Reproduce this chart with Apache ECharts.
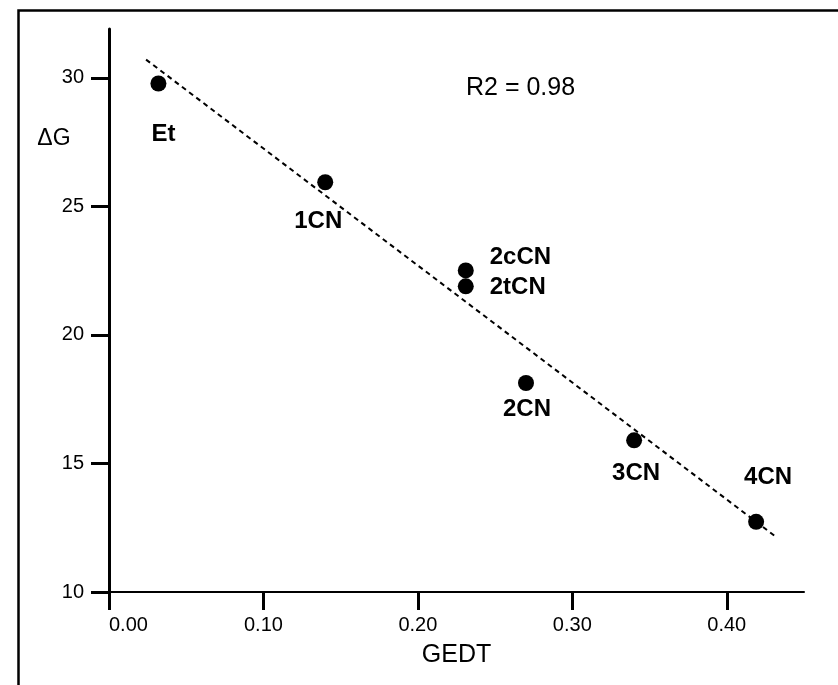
<!DOCTYPE html>
<html>
<head>
<meta charset="utf-8">
<script src="https://cdn.jsdelivr.net/npm/echarts@6/dist/echarts.min.js"></script>
<style>
html,body{margin:0;padding:0;background:#fff;}
#chart{width:838px;height:685px;}
</style>
</head>
<body>
<div id="chart"></div>
<script>
// ---- data ----
var compounds = ['Et', '1CN', '2cCN', '2tCN', '2CN', '3CN', '4CN'];
var gedt = [0.032, 0.14, 0.231, 0.231, 0.27, 0.34, 0.419];
var deltaG = [29.78, 25.94, 22.51, 21.89, 18.13, 15.90, 12.73];
var trendX = [0.024, 0.432];
var trendY = [30.71, 12.14];
var xTicks = [0, 0.1, 0.2, 0.3, 0.4];
var yTicks = [10, 15, 20, 25, 30];
var r2Text = 'R2 = 0.98';

// ---- styling (label placement relative to each point, px) ----
var FONT = '"Liberation Sans", Arial, Helvetica, sans-serif';
var labelPlace = {
  'Et':   {align: 'center', dx: 5,  dy: 51},
  '1CN':  {align: 'center', dx: -7, dy: 39},
  '2cCN': {align: 'left',   dx: 24, dy: -13},
  '2tCN': {align: 'left',   dx: 24, dy: 1},
  '2CN':  {align: 'center', dx: 1,  dy: 26},
  '3CN':  {align: 'center', dx: 2,  dy: 33},
  '4CN':  {align: 'center', dx: 12, dy: -44}
};

var points = compounds.map(function (name, i) {
  var p = labelPlace[name];
  return {
    name: name,
    value: [gedt[i], deltaG[i]],
    label: {
      show: true,
      position: 'inside',
      align: p.align,
      verticalAlign: 'middle',
      offset: [p.dx, p.dy]
    }
  };
});
var trend = trendX.map(function (x, i) { return [x, trendY[i]]; });

var chart = echarts.init(document.getElementById('chart'), null, {renderer: 'canvas'});
chart.setOption({
  animation: false,
  backgroundColor: '#ffffff',
  textStyle: {fontFamily: FONT},
  grid: {left: 109, right: 34, top: 29, bottom: 93, containLabel: false},
  xAxis: {
    type: 'value',
    min: 0, max: 0.45,
    name: 'GEDT',
    nameLocation: 'middle',
    nameGap: 51,
    nameTextStyle: {fontFamily: FONT, fontSize: 25, color: '#000'},
    splitLine: {show: false},
    axisLine: {show: true, lineStyle: {color: '#000', width: 2}},
    axisTick: {show: true, inside: false, length: 18, lineStyle: {color: '#000', width: 3}, customValues: xTicks},
    axisLabel: {
      color: '#000', fontFamily: FONT, fontSize: 20, margin: 23,
      customValues: xTicks,
      alignMinLabel: 'left',
      formatter: function (v) { return v.toFixed(2); }
    }
  },
  yAxis: {
    type: 'value',
    min: 10, max: 31.9,
    splitLine: {show: false},
    axisLine: {show: true, onZero: false, lineStyle: {color: '#000', width: 3}},
    axisTick: {show: true, inside: false, length: 18, lineStyle: {color: '#000', width: 3}, customValues: yTicks},
    axisLabel: {
      color: '#000', fontFamily: FONT, fontSize: 20, margin: 25,
      customValues: yTicks,
      formatter: function (v) { return String(Math.round(v)); }
    }
  },
  graphic: [
    {
      type: 'rect', left: 16, top: 8, z: 100,
      shape: {width: 1000, height: 1000},
      style: {fill: 'none', stroke: '#000', lineWidth: 2.5}
    },
    {
      type: 'text', x: 54, y: 139, z: 100,
      style: {text: '\u0394G', font: '23px ' + FONT, fill: '#000', align: 'center', verticalAlign: 'middle'}
    },
    {
      type: 'text', x: 466, y: 88, z: 100,
      style: {text: r2Text, font: '25px ' + FONT, fill: '#000', align: 'left', verticalAlign: 'middle'}
    }
  ],
  series: [
    {
      type: 'line',
      data: trend,
      symbol: 'none',
      silent: true,
      lineStyle: {color: '#000', width: 2, type: [5, 4], opacity: 1},
      z: 1
    },
    {
      type: 'scatter',
      data: points,
      symbol: 'circle',
      symbolSize: 16,
      itemStyle: {color: '#000', opacity: 1},
      label: {
        show: true,
        formatter: '{b}',
        color: '#000',
        fontFamily: FONT,
        fontSize: 24,
        fontWeight: 'bold'
      },
      z: 2
    }
  ]
});
</script>
</body>
</html>
